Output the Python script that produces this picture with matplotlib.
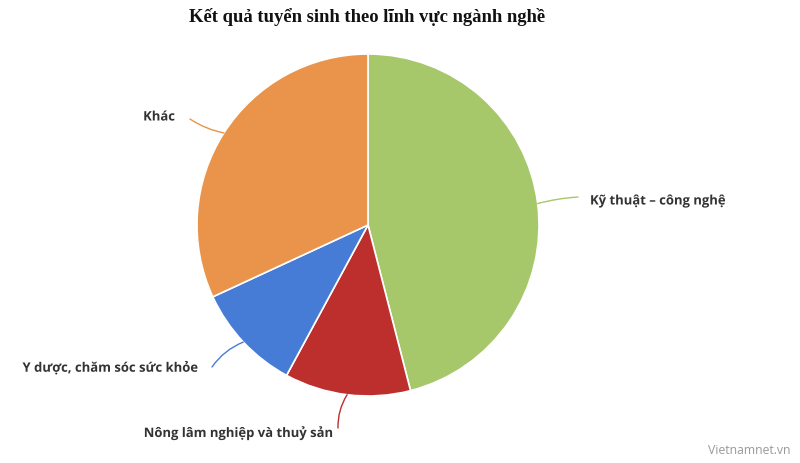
import matplotlib
matplotlib.use("Agg")
import matplotlib.pyplot as plt
import matplotlib.patheffects as pe
import numpy as np

# tỉ lệ (%), theo chiều kim đồng hồ từ đỉnh
categories = ["Kỹ thuật – công nghệ", "Nông lâm nghiệp và thuỷ sản",
              "Y dược, chăm sóc sức khỏe", "Khác"]
shares = [46.0, 11.9, 10.2, 31.9]
colors = ["#A6C86A", "#BC2F2D", "#477CD6", "#E9944A"]

# vị trí nhãn (pixel, gốc ở trên trái) và đầu đường dẫn
label_pos = [(590, 201, "left"), (333, 433, "right"),
             (198, 368, "right"), (175, 117, "right")]
line_end = [(578, 197), (338, 428), (212, 367), (190, 119)]
rads = [0.05, -0.15, -0.15, 0.1]

W, H = 800, 463
cx, cy, r = 368, 225, 171


def main():
    fig = plt.figure(figsize=(8, 4.63), dpi=100)
    ax = fig.add_axes([0, 0, 1, 1])

    wedges, _ = ax.pie(shares, colors=colors, center=(cx, H - cy), radius=r,
                       startangle=90, counterclock=False,
                       wedgeprops=dict(edgecolor="white", linewidth=1.2))
    ax.set_xlim(0, W)
    ax.set_ylim(0, H)
    ax.set_aspect("equal")
    ax.axis("off")

    stroke = [pe.withStroke(linewidth=2.5, foreground="white")]
    for w, (lx, ly, ha), (ex, ey), col, name, rad in zip(
            wedges, label_pos, line_end, colors, categories, rads):
        mid = np.deg2rad((w.theta1 + w.theta2) / 2)
        sx = cx + r * np.cos(mid)
        sy = (H - cy) + r * np.sin(mid)
        ax.annotate("", xy=(sx, sy), xytext=(ex, H - ey),
                    arrowprops=dict(arrowstyle="-", color=col, lw=1,
                                    shrinkA=0, shrinkB=0,
                                    connectionstyle=f"arc3,rad={rad}"))
        ax.text(lx, H - ly, name, ha=ha, va="center", fontsize=9.4,
                fontweight="bold", family="Open Sans", color="#333333",
                path_effects=stroke)

    ax.text(367, H - 17, "Kết quả tuyển sinh theo lĩnh vực ngành nghề",
            ha="center", va="center", fontsize=13.4, fontweight="bold",
            family="Liberation Serif", color="#111111")
    ax.text(790, H - 451, "Vietnamnet.vn", ha="right", va="center",
            fontsize=8.8, color="#999999", family="Open Sans")

    fig.savefig("out.png", dpi=100)


if __name__ == "__main__":
    main()
